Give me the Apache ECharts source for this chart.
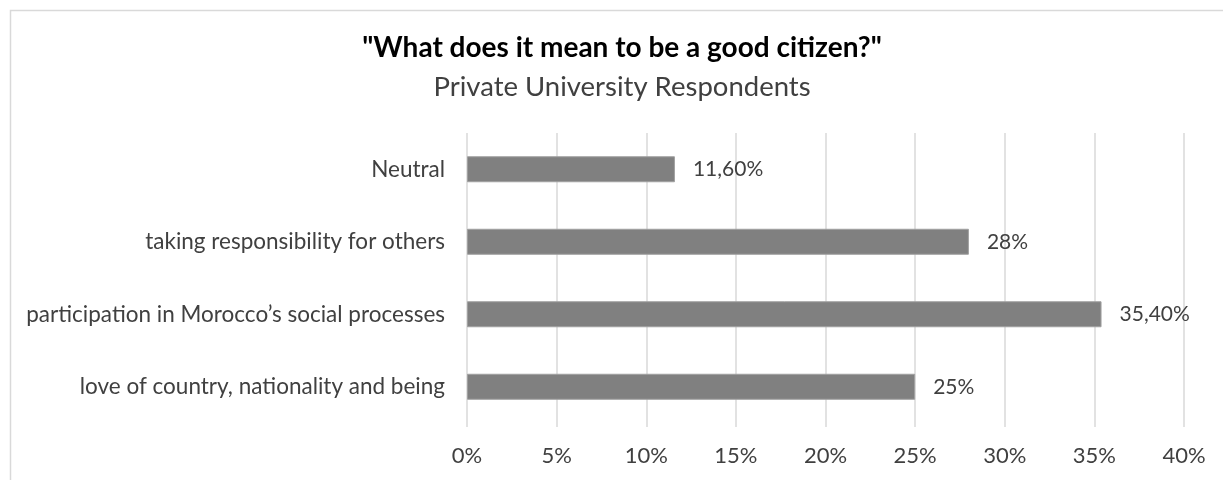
<!DOCTYPE html>
<html>
<head>
<meta charset="utf-8">
<script src="https://cdn.jsdelivr.net/npm/echarts@6/dist/echarts.min.js"></script>
<style>
html,body{margin:0;padding:0;background:#fff;}
#chart{width:1223px;height:480px;}
</style>
</head>
<body>
<div id="chart"></div>
<script>
const titleText = '"What does it mean to be a good citizen?"';
const subtitleText = 'Private University Respondents';
const categories = [
  'love of country, nationality and being',
  'participation in Morocco\u2019s social processes',
  'taking responsibility for others',
  'Neutral'
];
const values = [25, 35.4, 28, 11.6];
const axisMin = 0;
const axisMax = 40;
const axisStep = 5;

function fmtPct(v){
  if (Number.isInteger(v)) return v + '%';
  return v.toFixed(2).replace('.', ',') + '%';
}

const chart = echarts.init(document.getElementById('chart'), null, {renderer:'canvas'});
const FONT = 'Lato, "Open Sans", sans-serif';
chart.setOption({
  animation:false,
  backgroundColor:'#ffffff',
  graphic:[{
    type:'rect', left:8, top:8, silent:true,
    shape:{width:1240, height:500},
    style:{fill:'none', stroke:'#d9d9d9', lineWidth:1.5}
  },{
    type:'text', x:622, y:48, silent:true,
    style:{text:titleText, fill:'#000', align:'center', verticalAlign:'middle',
      font:'bold 28px Lato, "Open Sans", sans-serif'}
  },{
    type:'text', x:622, y:87, silent:true,
    style:{text:subtitleText, fill:'#404040', align:'center', verticalAlign:'middle',
      font:'27.5px Lato, "Open Sans", sans-serif'}
  }],
  grid:{left:467, right:39, top:133, bottom:57, containLabel:false},
  xAxis:{
    type:'value', min:axisMin, max:axisMax, interval:axisStep,
    axisLine:{show:false},
    axisTick:{show:true, length:4, lineStyle:{color:'#d9d9d9', width:1.5}},
    splitLine:{show:true, lineStyle:{color:'#d9d9d9', width:1.5}},
    axisLabel:{formatter:v=>v+'%', fontFamily:FONT, fontSize:22, color:'#404040', margin:22}
  },
  yAxis:{
    type:'category', data:categories,
    axisLine:{show:false}, axisTick:{show:false},
    axisLabel:{fontFamily:FONT, fontSize:22.5, color:'#404040', margin:22}
  },
  series:[{
    type:'bar', data:values, barWidth:26,
    itemStyle:{color:'#808080', borderColor:'#a0a0a0', borderWidth:1},
    label:{show:true, position:'right', distance:18, formatter:p=>fmtPct(p.value),
      fontFamily:FONT, fontSize:21, color:'#404040'}
  }]
});
</script>
</body>
</html>
